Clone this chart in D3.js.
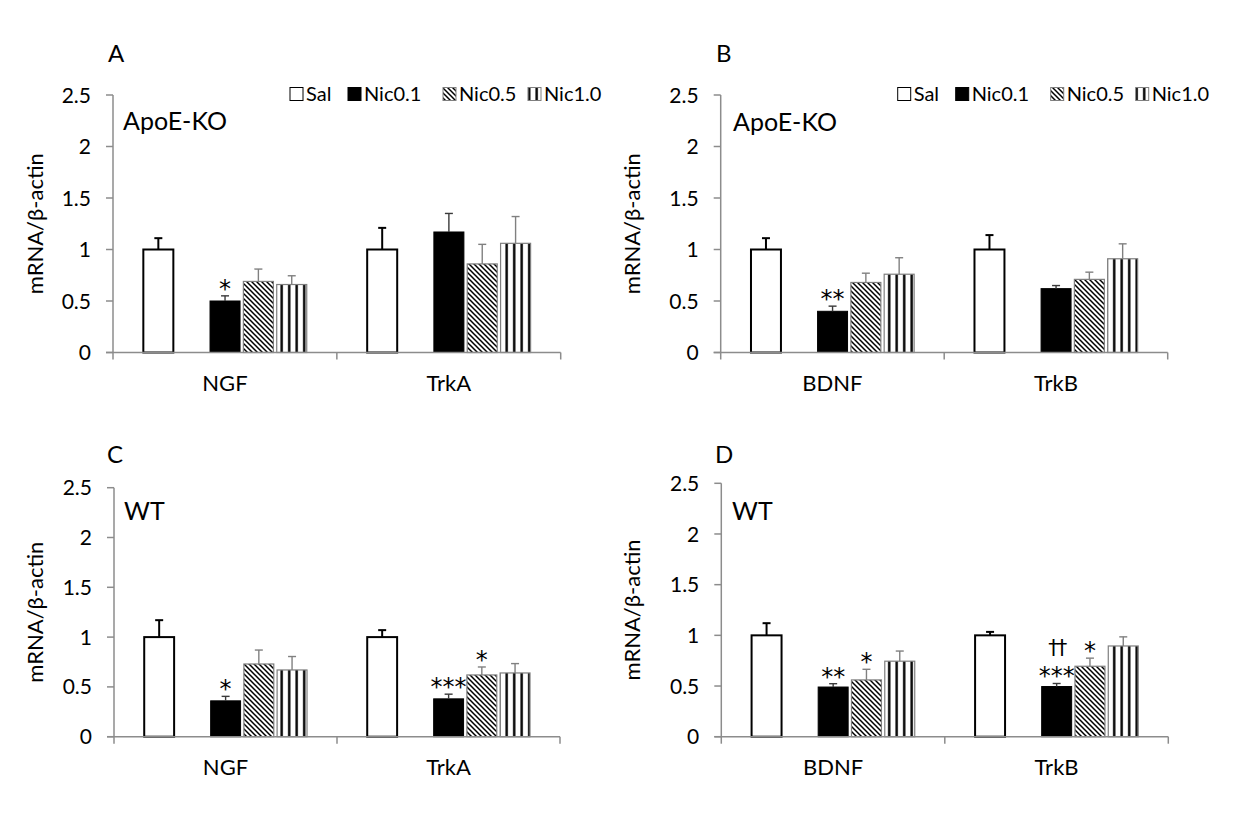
<!DOCTYPE html>
<html>
<head>
<meta charset="utf-8">
<script src="https://cdn.jsdelivr.net/npm/d3@7"></script>
<style>
  html, body { margin: 0; padding: 0; background: #fff; }
  svg { display: block; font-family: "Lato", "Open Sans", sans-serif; }
</style>
</head>
<body>
<svg id="chart" width="1233" height="817"></svg>
<script>
// ---------------- data ----------------
const seriesNames = ["Sal", "Nic0.1", "Nic0.5", "Nic1.0"];
const slotNames = ["Sal", "(blank)", "Nic0.1", "Nic0.5", "Nic1.0"]; // Excel layout has an empty slot after Sal
const yTicks = [0, 0.5, 1, 1.5, 2, 2.5];
const yTickLabels = ["0", "0.5", "1", "1.5", "2", "2.5"];

const panelLetters = ["A", "B", "C", "D"];
const panelTitles = ["ApoE-KO", "ApoE-KO", "WT", "WT"];
const yAxisTitle = "mRNA/β-actin";

const catsNGF = ["NGF", "TrkA"];
const catsBDNF = ["BDNF", "TrkB"];

// means (per category: Sal, Nic0.1, Nic0.5, Nic1.0)
const meanA = [[1.00, 0.50, 0.69, 0.66], [1.00, 1.17, 0.86, 1.06]];
const errA  = [[0.11, 0.05, 0.12, 0.085], [0.21, 0.18, 0.19, 0.26]];
const meanB = [[1.00, 0.40, 0.68, 0.76], [1.00, 0.62, 0.71, 0.91]];
const errB  = [[0.11, 0.05, 0.09, 0.16], [0.14, 0.03, 0.07, 0.145]];
const meanC = [[1.00, 0.36, 0.73, 0.67], [1.00, 0.38, 0.62, 0.64]];
const errC  = [[0.17, 0.045, 0.14, 0.135], [0.07, 0.047, 0.08, 0.094]];
const meanD = [[1.00, 0.49, 0.56, 0.745], [1.00, 0.495, 0.695, 0.895]];
const errD  = [[0.12, 0.033, 0.105, 0.10], [0.034, 0.03, 0.08, 0.09]];

// significance marks: [categoryIndex, seriesName, lines (top to bottom)]
const marksA = [[0, "Nic0.1", ["*"]]];
const marksB = [[0, "Nic0.1", ["**"]]];
const marksC = [[0, "Nic0.1", ["*"]], [1, "Nic0.1", ["***"]], [1, "Nic0.5", ["*"]]];
const marksD = [[0, "Nic0.1", ["**"]], [0, "Nic0.5", ["*"]], [1, "Nic0.1", ["††", "***"]], [1, "Nic0.5", ["*"]]];

// ---------------- layout ----------------
const panels = [
  { letter: panelLetters[0], title: panelTitles[0], cats: catsNGF,  mean: meanA, err: errA, marks: marksA, legend: true,
    x0: 113,   x1: 560.7,  yBot: 352.5, yTop: 95,    letterPos: [108, 62],  titlePos: [123, 130], ylabX: 35 },
  { letter: panelLetters[1], title: panelTitles[1], cats: catsBDNF, mean: meanB, err: errB, marks: marksB, legend: true,
    x0: 720.7, x1: 1167.7, yBot: 352.5, yTop: 95,    letterPos: [716, 62],  titlePos: [733, 131], ylabX: 632 },
  { letter: panelLetters[2], title: panelTitles[2], cats: catsNGF,  mean: meanC, err: errC, marks: marksC, legend: false,
    x0: 114,   x1: 560,    yBot: 736.7, yTop: 487.7, letterPos: [107, 463], titlePos: [124, 520], ylabX: 35 },
  { letter: panelLetters[3], title: panelTitles[3], cats: catsBDNF, mean: meanD, err: errD, marks: marksD, legend: false,
    x0: 721.3, x1: 1168.3, yBot: 736.7, yTop: 483.3, letterPos: [715, 463], titlePos: [732, 520], ylabX: 632 }
];

const axisColor = "#8c8c8c";
const svg = d3.select("#chart");
svg.append("rect").attr("width", 1233).attr("height", 817).attr("fill", "#fff");

// patterns
const defs = svg.append("defs");
const diag = defs.append("pattern").attr("id", "diag")
  .attr("patternUnits", "userSpaceOnUse").attr("width", 5).attr("height", 5);
diag.append("rect").attr("width", 5).attr("height", 5).attr("fill", "#fff");
diag.append("path").attr("d", "M-1,-1 L6,6 M-1,4 L1,6 M4,-1 L6,1")
  .attr("stroke", "#000").attr("stroke-width", 1.5);
const vert = defs.append("pattern").attr("id", "vert")
  .attr("patternUnits", "userSpaceOnUse").attr("width", 7.5).attr("height", 10);
vert.append("rect").attr("width", 7.5).attr("height", 10).attr("fill", "#fff");
vert.append("rect").attr("x", 3).attr("width", 2.4).attr("height", 10).attr("fill", "#000");

const style = {
  "Sal":    { fill: "#fff",        stroke: "#000",    sw: 2,   errColor: "#000",    errW: 2 },
  "Nic0.1": { fill: "#000",        stroke: "#000",    sw: 1,   errColor: "#3a3a3a", errW: 1.4 },
  "Nic0.5": { fill: "url(#diag)",  stroke: "#7f7f7f", sw: 1.2, errColor: "#808080", errW: 1.4 },
  "Nic1.0": { fill: "url(#vert)",  stroke: "#7f7f7f", sw: 1.2, errColor: "#808080", errW: 1.4 }
};

panels.forEach(p => {
  const g = svg.append("g");
  const y = d3.scaleLinear().domain([0, 2.5]).range([p.yBot, p.yTop]);
  const x0 = d3.scaleBand().domain(p.cats).range([p.x0, p.x1]).padding(0);
  const bw = x0.bandwidth();
  const x1 = d3.scaleBand().domain(slotNames).range([bw * 0.1355, bw * 0.8655]).paddingInner(0.1).paddingOuter(0);

  // bars
  p.cats.forEach((cat, ci) => {
    seriesNames.forEach((s, si) => {
      const v = p.mean[ci][si], e = p.err[ci][si];
      const st = style[s];
      const bx = x0(cat) + x1(s);
      const w = x1.bandwidth();
      g.append("rect")
        .attr("x", bx).attr("y", y(v)).attr("width", w).attr("height", y(0) - y(v))
        .attr("fill", st.fill).attr("stroke", st.stroke).attr("stroke-width", st.sw);
      const cx = bx + w / 2;
      g.append("line").attr("x1", cx).attr("x2", cx).attr("y1", y(v)).attr("y2", y(v + e))
        .attr("stroke", st.errColor).attr("stroke-width", st.errW);
      g.append("line").attr("x1", cx - 4).attr("x2", cx + 4).attr("y1", y(v + e)).attr("y2", y(v + e))
        .attr("stroke", st.errColor).attr("stroke-width", st.errW);
    });
  });

  // significance marks
  p.marks.forEach(([ci, s, lines]) => {
    const si = seriesNames.indexOf(s);
    const top = y(p.mean[ci][si] + p.err[ci][si]);
    const cx = x0(p.cats[ci]) + x1(s) + x1.bandwidth() / 2;
    const n = lines.length;
    lines.forEach((t, li) => {
      const isDagger = t.includes("†");
      const level = n - 1 - li;
      g.append("text")
        .attr("x", cx).attr("y", isDagger ? top - 28 - (level - 1) * 22 : top + 1 - level * 22)
        .attr("text-anchor", "middle")
        .attr("font-family", "DejaVu Sans")
        .attr("font-size", isDagger ? 21 : 24)
        .attr("letter-spacing", isDagger ? -2 : 0)
        .text(t);
    });
  });

  // y axis
  g.append("line").attr("x1", p.x0).attr("x2", p.x0).attr("y1", y(2.5)).attr("y2", y(0))
    .attr("stroke", axisColor).attr("stroke-width", 1.5);
  yTicks.forEach((t, i) => {
    g.append("line").attr("x1", p.x0 - 7).attr("x2", p.x0).attr("y1", y(t)).attr("y2", y(t))
      .attr("stroke", axisColor).attr("stroke-width", 1.5);
    g.append("text").attr("x", p.x0 - 22).attr("y", y(t)).attr("dy", "0.36em")
      .attr("text-anchor", "end").attr("font-size", 21).attr("fill", "#000")
      .text(yTickLabels[i]);
  });

  // x axis
  g.append("line").attr("x1", p.x0 - 7).attr("x2", p.x1).attr("y1", y(0)).attr("y2", y(0))
    .attr("stroke", axisColor).attr("stroke-width", 1.5);
  [p.x0, x0(p.cats[1]), p.x1].forEach(tx => {
    g.append("line").attr("x1", tx).attr("x2", tx).attr("y1", y(0)).attr("y2", y(0) + 7)
      .attr("stroke", axisColor).attr("stroke-width", 1.5);
  });
  p.cats.forEach(cat => {
    g.append("text").attr("x", x0(cat) + bw / 2).attr("y", y(0) + 38)
      .attr("text-anchor", "middle").attr("font-size", 22).text(cat);
  });

  // y title
  g.append("text")
    .attr("transform", `translate(${p.ylabX},${(p.yTop + p.yBot) / 2}) rotate(-90)`)
    .attr("text-anchor", "middle").attr("dy", "0.35em").attr("font-size", 22).text(yAxisTitle);

  // panel letter & title
  g.append("text").attr("x", p.letterPos[0]).attr("y", p.letterPos[1]).attr("font-size", 24).text(p.letter);
  g.append("text").attr("x", p.titlePos[0]).attr("y", p.titlePos[1]).attr("font-size", 25).text(p.title);

  // legend
  if (p.legend) {
    const offs = [177, 235, 330, 415];
    const ly = p.yTop - 1;
    seriesNames.forEach((s, i) => {
      const st = style[s];
      const lx = p.x0 + offs[i];
      g.append("rect").attr("x", lx).attr("y", ly - 6.5).attr("width", 13).attr("height", 13)
        .attr("fill", st.fill).attr("stroke", s === "Sal" || s === "Nic0.1" ? "#000" : "#7f7f7f")
        .attr("stroke-width", 1);
      g.append("text").attr("x", lx + 16).attr("y", ly).attr("dy", "0.36em")
        .attr("font-size", 20).text(s);
    });
  }
});
</script>
</body>
</html>
